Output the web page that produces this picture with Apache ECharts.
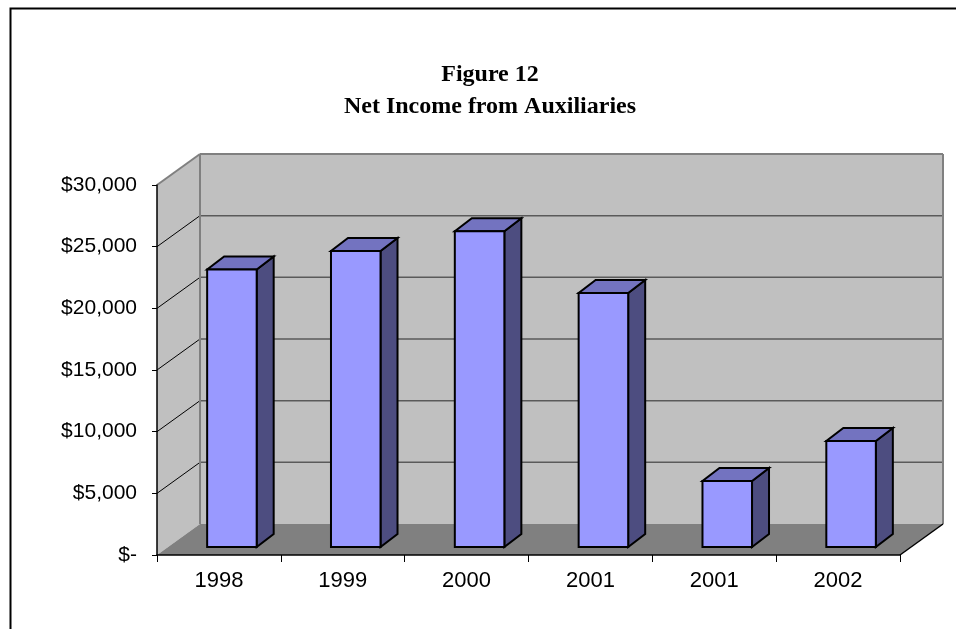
<!DOCTYPE html>
<html>
<head>
<meta charset="utf-8">
<script src="https://cdn.jsdelivr.net/npm/echarts@6/dist/echarts.min.js"></script>
<style>html,body{margin:0;padding:0;background:#fff}#c{width:956px;height:629px}</style>
</head>
<body>
<div id="c"></div>
<script>
// ---- data ----
var categories = ['1998', '1999', '2000', '2001', '2001', '2002'];
var netIncome = [22500, 24000, 25600, 20600, 5350, 8600];
var yTicks = [0, 5000, 10000, 15000, 20000, 25000, 30000];
var titleLines = ['Figure 12', 'Net Income from Auxiliaries'];

// ---- 3D look (pixels) ----
var DX = 43, DY = -31;          // full depth of the box
var OX = 13, OY = -8;           // bar front face offset into depth
var BDX = 17, BDY = -13;        // bar depth

var chart = echarts.init(document.getElementById('c'), null, {renderer: 'canvas'});

function wallsRender(params, api) {
  var cs = params.coordSys;
  var x0 = cs.x, x1 = cs.x + cs.width;
  var yBot = api.coord([0, 0])[1];
  var yTop = api.coord([0, yTicks[yTicks.length - 1]])[1];
  var ch = [];
  ch.push({type: 'polygon', shape: {points: [[x0, yTop], [x0 + DX, yTop + DY], [x0 + DX, yBot + DY], [x0, yBot]]},
    style: {fill: '#c0c0c0', stroke: null}});
  ch.push({type: 'rect', shape: {x: x0 + DX, y: yTop + DY, width: x1 - x0, height: yBot - yTop},
    style: {fill: '#c0c0c0', stroke: null}});
  ch.push({type: 'polygon', shape: {points: [[x0, yBot], [x1, yBot], [x1 + DX, yBot + DY], [x0 + DX, yBot + DY]]},
    style: {fill: '#808080', stroke: null}});
  for (var i = 1; i < yTicks.length; i++) {
    var y = api.coord([0, yTicks[i]])[1];
    var last = (i === yTicks.length - 1);
    ch.push({type: 'line', shape: {x1: x0, y1: y, x2: x0 + DX, y2: y + DY},
      style: {stroke: last ? '#808080' : '#000', lineWidth: last ? 2 : 1}});
    ch.push({type: 'line', shape: {x1: x0 + DX, y1: y + DY, x2: x1 + DX, y2: y + DY},
      style: {stroke: last ? '#808080' : '#5a5a5a', lineWidth: last ? 2 : 1.5}});
  }
  ch.push({type: 'line', shape: {x1: x0 + DX, y1: yTop + DY, x2: x0 + DX, y2: yBot + DY},
    style: {stroke: '#808080', lineWidth: 2}});
  ch.push({type: 'line', shape: {x1: x1 + DX, y1: yTop + DY, x2: x1 + DX, y2: yBot + DY},
    style: {stroke: '#808080', lineWidth: 2}});
  ch.push({type: 'line', shape: {x1: x1, y1: yBot, x2: x1 + DX, y2: yBot + DY},
    style: {stroke: '#000', lineWidth: 1.5}});
  return {type: 'group', children: ch};
}

function barRender(params, api) {
  var idx = api.value(0), val = api.value(1);
  var top = api.coord([idx, val]);
  var base = api.coord([idx, 0]);
  var w = api.size([1, 0])[0] * 0.4;
  var xl = top[0] - w / 2 + OX, xr = top[0] + w / 2 + OX;
  var yt = top[1] + OY, yb = base[1] + OY;
  var st = {stroke: '#000', lineWidth: 2, lineJoin: 'miter'};
  return {type: 'group', children: [
    {type: 'polygon', shape: {points: [[xr, yt], [xr + BDX, yt + BDY], [xr + BDX, yb + BDY], [xr, yb]]},
      style: Object.assign({fill: '#4d4d80'}, st)},
    {type: 'polygon', shape: {points: [[xl, yt], [xr, yt], [xr + BDX, yt + BDY], [xl + BDX, yt + BDY]]},
      style: Object.assign({fill: '#7373c0'}, st)},
    {type: 'rect', shape: {x: xl, y: yt, width: xr - xl, height: yb - yt},
      style: Object.assign({fill: '#9999ff'}, st)}
  ]};
}

var option = {
  animation: false,
  backgroundColor: '#fff',
  grid: {left: 157, right: 56, top: 185, bottom: 74, containLabel: false},
  xAxis: {
    type: 'category', data: categories, boundaryGap: true, z: 10,
    axisLine: {lineStyle: {color: '#000', width: 1.5}},
    axisTick: {show: true, interval: 0, length: 7, lineStyle: {color: '#000'}},
    axisLabel: {interval: 0, color: '#000', fontFamily: 'Liberation Sans', fontSize: 22, margin: 15},
    splitLine: {show: false}
  },
  yAxis: {
    type: 'value', min: yTicks[0], max: yTicks[yTicks.length - 1], interval: yTicks[1] - yTicks[0], z: 10,
    axisLine: {show: true, lineStyle: {color: '#000', width: 1.5}},
    axisTick: {show: true, length: 5, lineStyle: {color: '#000'}},
    axisLabel: {color: '#000', fontFamily: 'Liberation Sans', fontSize: 21, margin: 20,
      formatter: function (v) { return v === 0 ? '$-' : '$' + v.toLocaleString('en-US'); }},
    splitLine: {show: false}
  },
  graphic: [
    {type: 'rect', left: 8, top: 6, z: 100, silent: true,
      shape: {x: 0, y: 0, width: 1000, height: 700},
      style: {fill: null, stroke: '#000', lineWidth: 2}},
    {type: 'text', x: 490, y: 75, z: 100,
      style: {text: titleLines[0], font: 'bold 24px "Liberation Serif"', fill: '#000', textAlign: 'center', textVerticalAlign: 'middle'}},
    {type: 'text', x: 490, y: 107, z: 100,
      style: {text: titleLines[1], font: 'bold 24px "Liberation Serif"', fill: '#000', textAlign: 'center', textVerticalAlign: 'middle'}}
  ],
  series: [
    {type: 'custom', z: 1, silent: true, data: [[0, 0]], renderItem: wallsRender},
    {type: 'custom', z: 5, data: netIncome.map(function (v, i) { return [i, v]; }), renderItem: barRender}
  ]
};
chart.setOption(option);
</script>
</body>
</html>
